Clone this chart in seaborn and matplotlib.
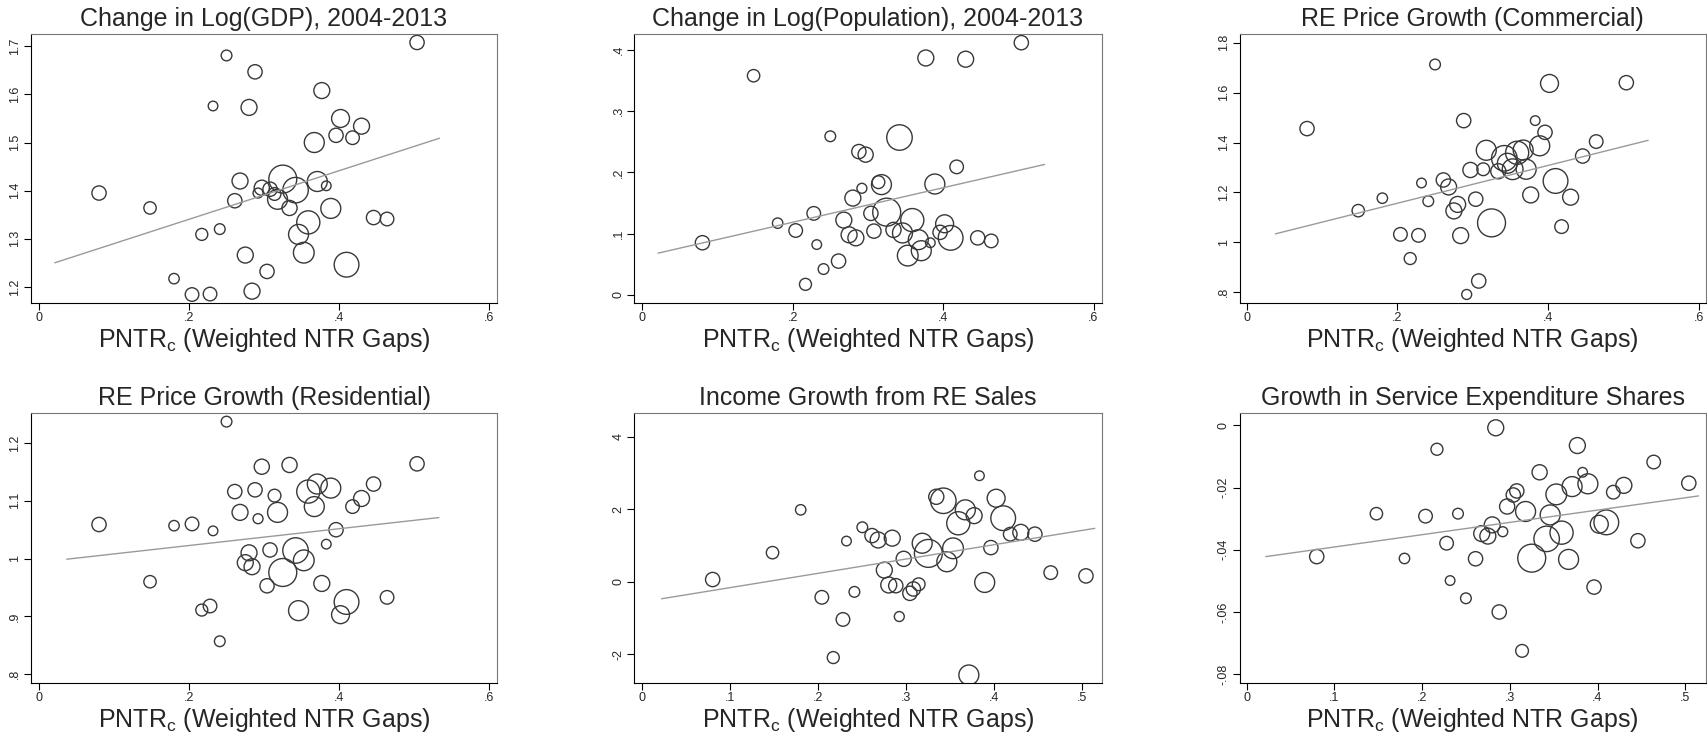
import numpy as np
import pandas as pd
import seaborn as sns
import matplotlib.pyplot as plt

# PNTR gap per metro area (shared by all six panels) and the weights (marker area)
pntr = [0.080, 0.148, 0.180, 0.204, 0.217, 0.228, 0.232, 0.241, 0.250, 0.261,
        0.268, 0.275, 0.280, 0.284, 0.288, 0.292, 0.297, 0.304, 0.308, 0.314,
        0.318, 0.325, 0.334, 0.342, 0.346, 0.353, 0.359, 0.367, 0.371, 0.377,
        0.383, 0.389, 0.396, 0.402, 0.410, 0.418, 0.430, 0.446, 0.464, 0.504]
weight = [3.2, 2.4, 1.7, 2.9, 2.25, 2.9, 1.45, 1.8, 1.8, 3.2,
          4.0, 4.0, 4.0, 4.0, 3.2, 1.55, 3.6, 3.2, 3.2, 2.55,
          6.25, 12.25, 3.6, 10.2, 6.25, 6.75, 8.4, 6.25, 6.25, 4.0,
          1.45, 6.25, 3.2, 5.05, 9.6, 2.9, 4.0, 3.2, 2.9, 3.2]

# outcomes
gdp = [1.395, 1.364, 1.217, 1.184, 1.309, 1.185, 1.576, 1.320, 1.681, 1.379,
       1.420, 1.266, 1.573, 1.191, 1.647, 1.395, 1.406, 1.232, 1.403, 1.393,
       1.382, 1.424, 1.364, 1.401, 1.309, 1.271, 1.334, 1.500, 1.419, 1.608,
       1.410, 1.363, 1.515, 1.550, 1.246, 1.510, 1.534, 1.344, 1.341, 1.708]
pop = [0.085, 0.358, 0.117, 0.105, 0.017, 0.133, 0.082, 0.042, 0.259, 0.055,
       0.122, 0.098, 0.158, 0.093, 0.234, 0.174, 0.229, 0.133, 0.104, 0.184,
       0.180, 0.135, 0.106, 0.257, 0.101, 0.064, 0.122, 0.090, 0.072, 0.387,
       0.085, 0.181, 0.102, 0.116, 0.093, 0.209, 0.385, 0.093, 0.088, 0.412]
commercial = [1.456, 1.127, 1.177, 1.032, 0.935, 1.028, 1.238, 1.165, 1.713, 1.250,
              1.222, 1.126, 1.152, 1.027, 1.488, 0.791, 1.290, 1.173, 0.845, 1.293,
              1.369, 1.078, 1.285, 1.337, 1.317, 1.293, 1.359, 1.370, 1.293, 1.190,
              1.488, 1.387, 1.441, 1.637, 1.246, 1.063, 1.181, 1.346, 1.404, 1.640]
residential = [1.059, 0.960, 1.057, 1.060, 0.911, 0.918, 1.048, 0.857, 1.237, 1.116,
               1.080, 0.993, 1.010, 0.986, 1.119, 1.069, 1.159, 0.953, 1.015, 1.109,
               1.080, 0.976, 1.162, 1.014, 0.910, 0.997, 1.116, 1.090, 1.129, 0.957,
               1.025, 1.122, 1.050, 0.903, 0.925, 1.090, 1.104, 1.129, 0.933, 1.164]
income = [0.06, 0.80, 1.98, -0.43, -2.09, -1.04, 1.12, -0.28, 1.50, 1.27,
          1.15, 0.32, -0.09, 1.20, -0.11, -0.96, 0.63, -0.32, -0.20, -0.07,
          1.06, 0.78, 2.34, 2.23, 0.55, 0.92, 1.61, 1.98, -2.57, 1.82,
          2.92, -0.02, 0.94, 2.30, 1.75, 1.31, 1.36, 1.31, 0.25, 0.16]
service = [-0.0422, -0.0284, -0.0428, -0.0292, -0.0077, -0.0379, -0.0499, -0.0284, -0.0556, -0.0429,
           -0.0348, -0.0356, -0.0320, -0.0008, -0.0600, -0.0342, -0.0261, -0.0224, -0.0211, -0.0725,
           -0.0277, -0.0427, -0.0151, -0.0365, -0.0288, -0.0222, -0.0345, -0.0431, -0.0197, -0.0065,
           -0.0151, -0.0188, -0.0520, -0.0318, -0.0312, -0.0215, -0.0193, -0.0371, -0.0118, -0.0186]

# weighted fit lines (end points)
gdp_fit_x, gdp_fit_y = [0.021, 0.534], [1.250, 1.509]
pop_fit_x, pop_fit_y = [0.021, 0.535], [0.068, 0.213]
com_fit_x, com_fit_y = [0.038, 0.533], [1.034, 1.409]
res_fit_x, res_fit_y = [0.037, 0.533], [0.999, 1.071]
inc_fit_x, inc_fit_y = [0.022, 0.514], [-0.47, 1.47]
svc_fit_x, svc_fit_y = [0.022, 0.515], [-0.0422, -0.0227]

titles = ["Change in Log(GDP), 2004-2013", "Change in Log(Population), 2004-2013",
          "RE Price Growth (Commercial)", "RE Price Growth (Residential)",
          "Income Growth from RE Sales", "Growth in Service Expenditure Shares"]

x6_ticks = [0, 0.2, 0.4, 0.6]
x6_labels = ["0", ".2", ".4", ".6"]
x5_ticks = [0, 0.1, 0.2, 0.3, 0.4, 0.5]
x5_labels = ["0", ".1", ".2", ".3", ".4", ".5"]

gdp_ticks = [1.2, 1.3, 1.4, 1.5, 1.6, 1.7]
gdp_labels = ["1.2", "1.3", "1.4", "1.5", "1.6", "1.7"]
pop_ticks = [0, 0.1, 0.2, 0.3, 0.4]
pop_labels = ["0", ".1", ".2", ".3", ".4"]
com_ticks = [0.8, 1.0, 1.2, 1.4, 1.6, 1.8]
com_labels = [".8", "1", "1.2", "1.4", "1.6", "1.8"]
res_ticks = [0.8, 0.9, 1.0, 1.1, 1.2]
res_labels = [".8", ".9", "1", "1.1", "1.2"]
inc_ticks = [-2, 0, 2, 4]
inc_labels = ["-2", "0", "2", "4"]
svc_ticks = [-0.08, -0.06, -0.04, -0.02, 0]
svc_labels = ["-.08", "-.06", "-.04", "-.02", "0"]

sns.set_style("ticks")
plt.rcParams['font.family'] = ['Liberation Sans', 'DejaVu Sans']
plt.rcParams['mathtext.fontset'] = 'custom'
plt.rcParams['mathtext.rm'] = 'Liberation Sans'

W, H = 1707, 736
fig = plt.figure(figsize=(W / 100, H / 100), dpi=100)

# frames in pixels: left, right, top, bottom
boxes = [(30.7, 497.3, 34.3, 302.7), (634.3, 1101.8, 34.3, 302.7), (1239.5, 1706, 34.3, 302.7),
         (30.7, 497.3, 413.3, 682.6), (634.3, 1101.8, 413.3, 682.6), (1239.5, 1706, 413.3, 682.6)]

panels = [
    (gdp, gdp_fit_x, gdp_fit_y, (-0.0111, 0.611), (1.167, 1.725), x6_ticks, x6_labels, gdp_ticks, gdp_labels),
    (pop, pop_fit_x, pop_fit_y, (-0.0106, 0.611), (-0.013, 0.4257), x6_ticks, x6_labels, pop_ticks, pop_labels),
    (commercial, com_fit_x, com_fit_y, (-0.0097, 0.6098), (0.758, 1.834), x6_ticks, x6_labels, com_ticks, com_labels),
    (residential, res_fit_x, res_fit_y, (-0.0111, 0.611), (0.7855, 1.2514), x6_ticks, x6_labels, res_ticks, res_labels),
    (income, inc_fit_x, inc_fit_y, (-0.009, 0.522), (-2.78, 4.64), x5_ticks, x5_labels, inc_ticks, inc_labels),
    (service, svc_fit_x, svc_fit_y, (-0.008, 0.5236), (-0.0827, 0.00386), x5_ticks, x5_labels, svc_ticks, svc_labels),
]

wmax = max(weight)
for (l, r, t, b), title, (y, fx, fy, xlim, ylim, xt, xtl, yt, ytl) in zip(boxes, titles, panels):
    ax = fig.add_axes([l / W, 1 - b / H, (r - l) / W, (b - t) / H])
    df = pd.DataFrame({'pntr': pntr, 'y': y, 'w': weight})
    sns.lineplot(x=fx, y=fy, color='#9a9a9a', linewidth=1.0, ax=ax)
    sns.scatterplot(data=df, x='pntr', y='y', size='w', sizes=(0, 33 * wmax),
                    size_norm=(0, wmax), facecolor='none', edgecolor='#383838',
                    linewidth=1.0, legend=False, ax=ax)
    ax.set_xlim(*xlim)
    ax.set_ylim(*ylim)
    ax.set_xticks(xt)
    ax.set_xticklabels(xtl)
    ax.set_yticks(yt)
    ax.set_yticklabels(ytl, rotation=90, va='center')
    ax.tick_params(direction='out', length=5, width=0.8, color='black',
                   labelsize=9, pad=2, bottom=True, left=True)
    for s in ['top', 'right']:
        ax.spines[s].set_color('#777777')
        ax.spines[s].set_linewidth(0.8)
    for s in ['left', 'bottom']:
        ax.spines[s].set_color('black')
        ax.spines[s].set_linewidth(0.8)
    ax.set_title(title, fontsize=18, pad=6)
    ax.set_xlabel(r'PNTR$_\mathregular{c}$ (Weighted NTR Gaps)', fontsize=18, labelpad=1)
    ax.set_ylabel('')

fig.savefig('out.png', dpi=100)
